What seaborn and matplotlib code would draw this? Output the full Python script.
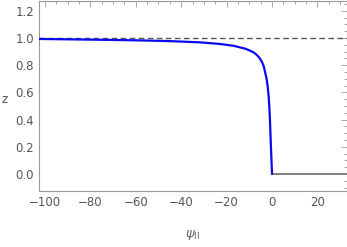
import matplotlib
matplotlib.use("Agg")
import matplotlib.pyplot as plt
import seaborn as sns
import pandas as pd
from matplotlib.ticker import MultipleLocator

sns.set_theme(style="white")
plt.rcParams['font.family'] = ['DejaVu Sans']

# data
psi = [-102.6, -80, -60, -45, -31.7, -22.9, -17.0, -14.1, -11.5, -9.7, -8.0, -6.7, -5.5, -4.5, -3.7, -3.1, -2.4, -1.9, -1.5, -1.2, -0.95, -0.75, -0.44, -0.2, 0.0]
z = [0.993, 0.988, 0.983, 0.977, 0.968, 0.956, 0.943, 0.931, 0.920, 0.907, 0.893, 0.875, 0.853, 0.826, 0.795, 0.752, 0.700, 0.642, 0.570, 0.495, 0.41, 0.32, 0.18, 0.08, 0.0]
psi_zero = [0.0, 33.0]
z_zero = [0.0, 0.0]
ref_level = 1.0
xticks = [-100, -80, -60, -40, -20, 0, 20]
yticks = [0.0, 0.2, 0.4, 0.6, 0.8, 1.0, 1.2]

df = pd.DataFrame({"psi": psi, "z": z})
df0 = pd.DataFrame({"psi": psi_zero, "z": z_zero})

fig = plt.figure(figsize=(3.47, 2.47), dpi=100)
ax = fig.add_axes([39/347, (247-191)/247, 1 - 39/347, 190/247])

ax.axhline(ref_level, color="#555555", lw=1.0, ls=(0, (4, 2.5)), zorder=1)
sns.lineplot(data=df0, x="psi", y="z", ax=ax, color="#777777", lw=1.3, sort=False, zorder=2)
sns.lineplot(data=df, x="psi", y="z", ax=ax, color="#0a0aee", lw=1.6, sort=False, zorder=3)

ax.set_xlim(-102.6, 33.0)
ax.set_ylim(-0.125, 1.272)
ax.set_xticks(xticks)
ax.set_yticks(yticks)
ax.set_xticklabels(["\u2212100", "\u221280", "\u221260", "\u221240", "\u221220", "0", "20"])
ax.set_yticklabels([f"{v:.1f}" for v in yticks])
ax.xaxis.set_minor_locator(MultipleLocator(5))
ax.yaxis.set_minor_locator(MultipleLocator(0.05))

ax.tick_params(which="both", direction="in", top=True, right=True, color="#999999",
               labelsize=8.5, labelcolor="#555555", width=0.6)
ax.tick_params(which="major", length=4)
ax.tick_params(which="minor", length=2)
for s in ax.spines.values():
    s.set_color("#999999")
    s.set_linewidth(0.8)

ax.set_xlabel(r"$\psi_{\mathrm{II}}$", color="#666666", fontsize=9.5, labelpad=14)
ax.set_ylabel("z", color="#555555", fontsize=8.5, rotation=0, labelpad=6, va="center")
ax.yaxis.set_label_coords(-0.11, 0.48)
ax.grid(False)

fig.savefig("out.png", dpi=100)
